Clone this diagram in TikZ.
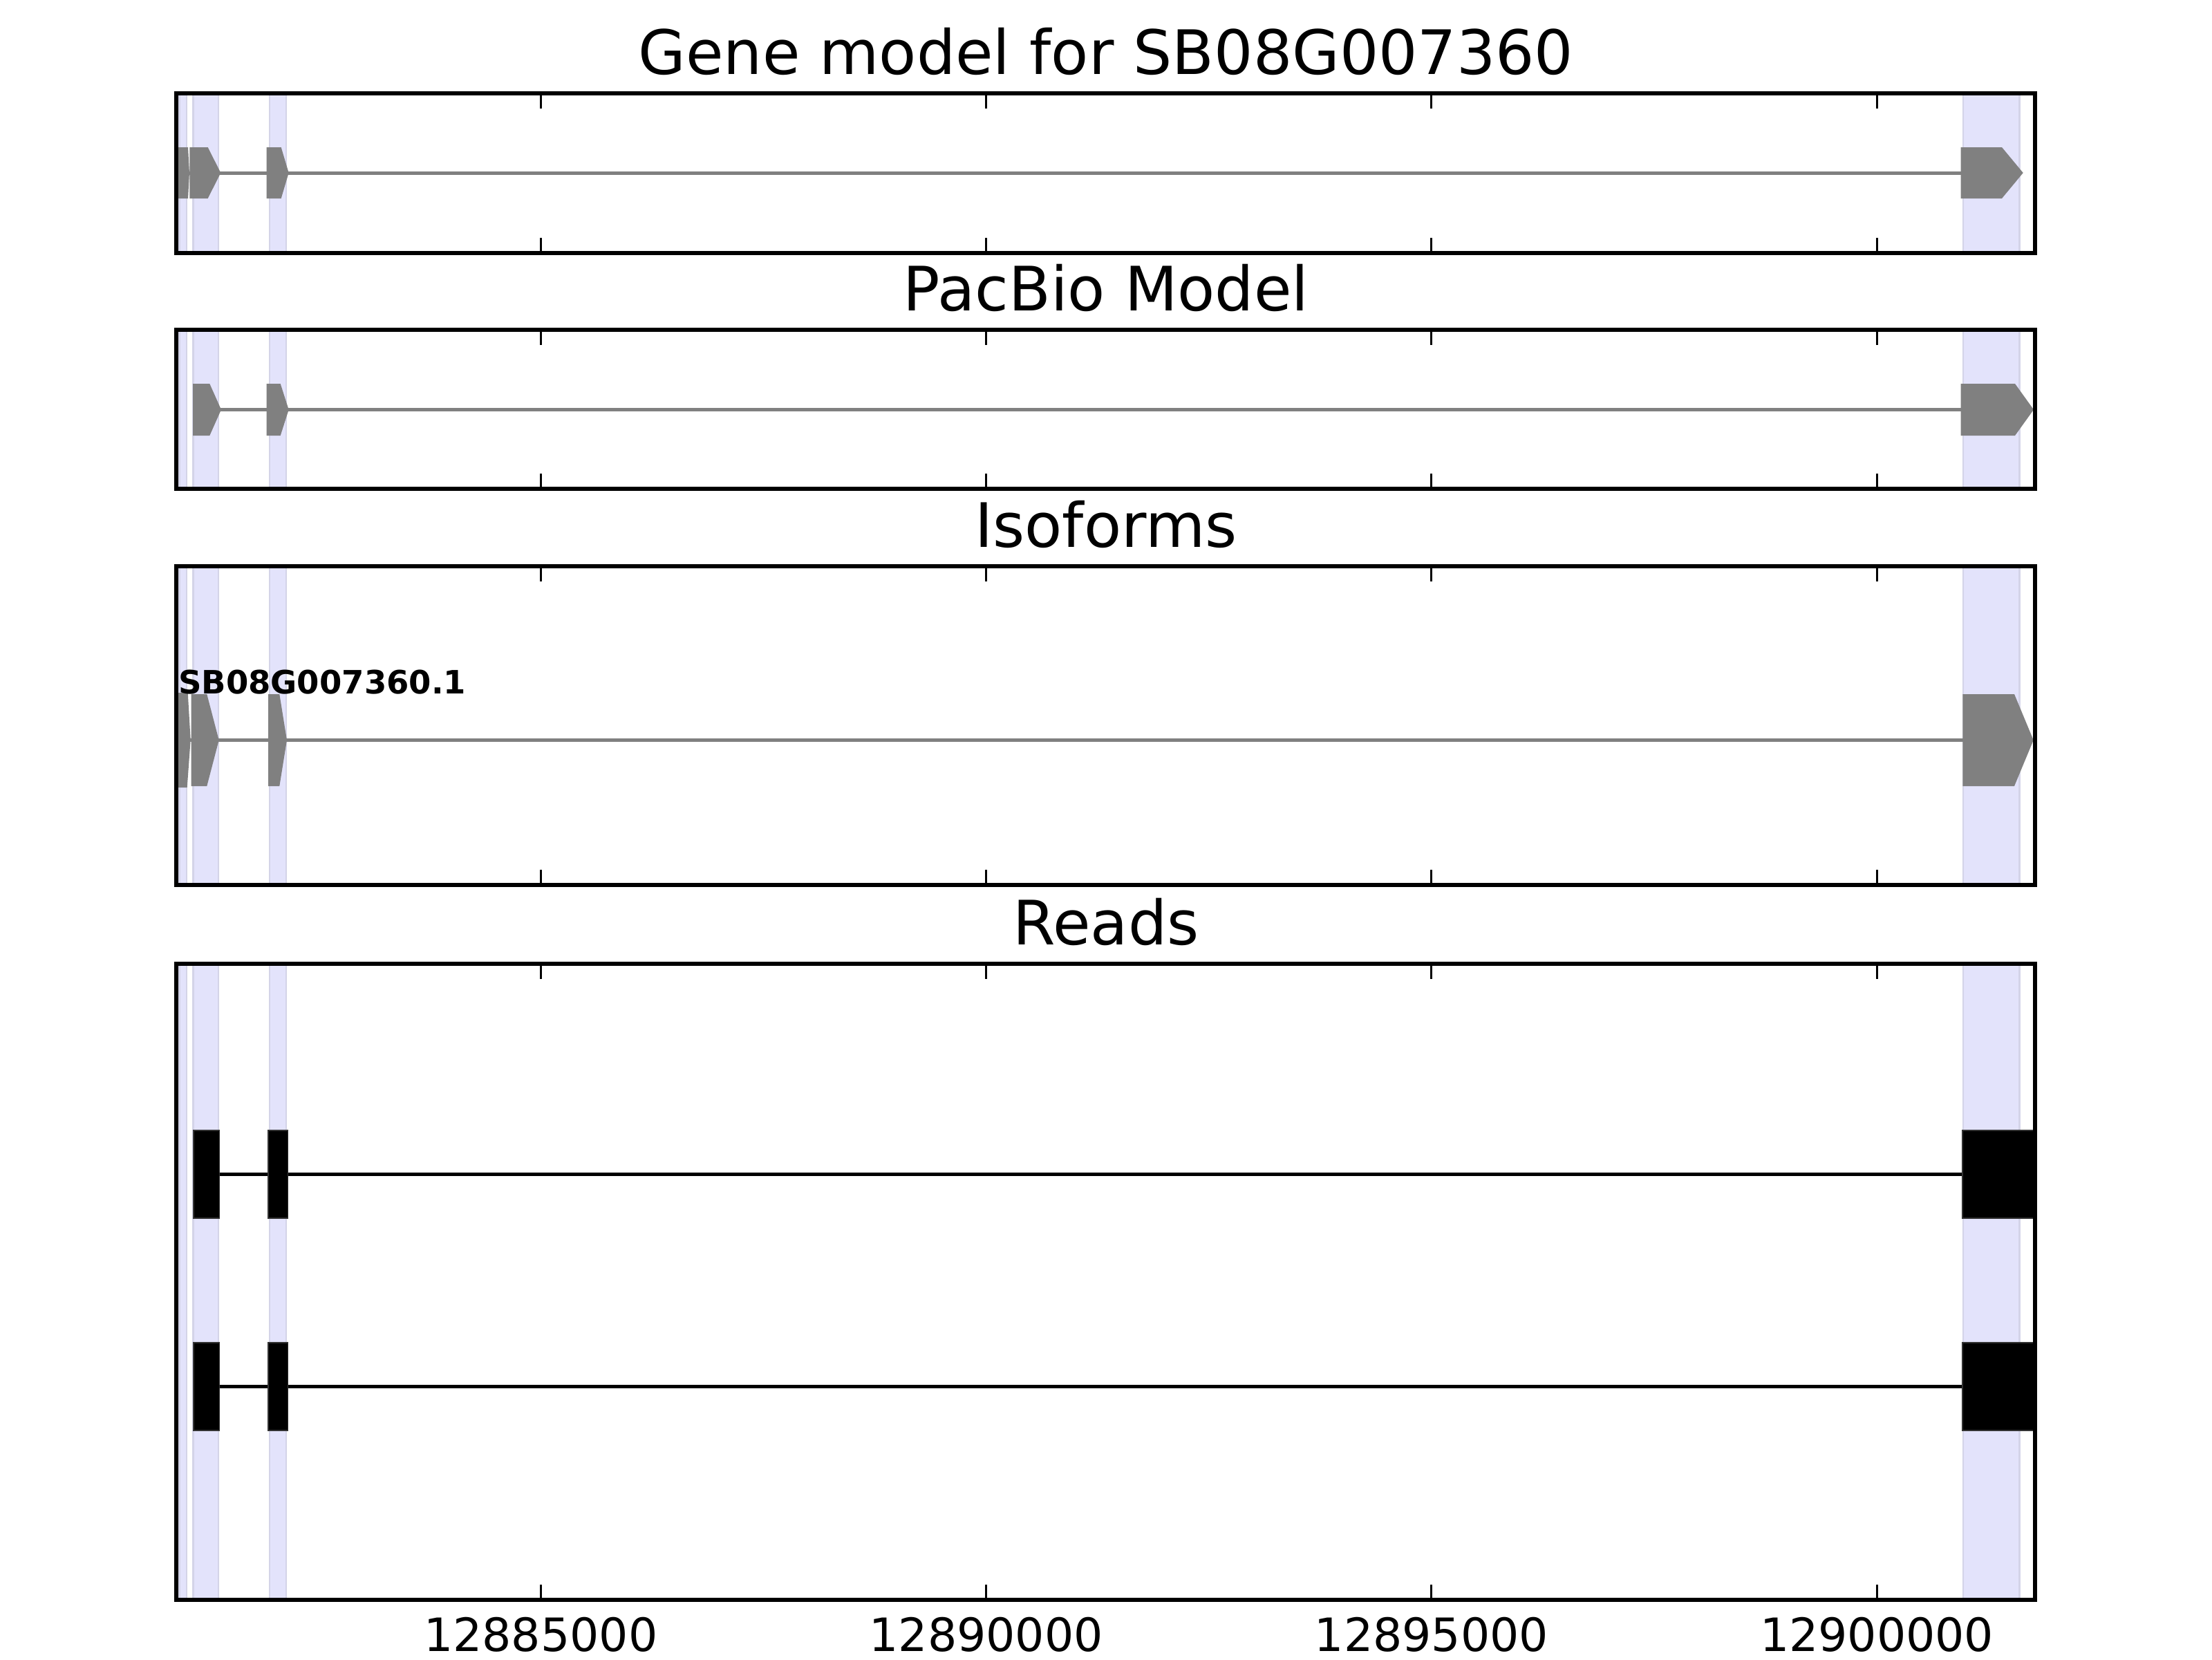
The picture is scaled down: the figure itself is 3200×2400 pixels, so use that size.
\documentclass[tikz,border=0pt]{standalone}
\usepackage{fontspec}
\setmainfont{DejaVu Sans}
\definecolor{spanblue}{RGB}{227,227,251}
\definecolor{spanedge}{RGB}{212,212,232}
\definecolor{exongray}{RGB}{128,128,128}
\tikzset{
  panel/.style={line width=1pt},
  span/.style={fill=spanblue,draw=spanedge,line width=0.5pt},
  gene/.style={fill=exongray},
  intron/.style={draw=exongray,line width=0.9pt},
  readexon/.style={fill=black,draw=black!80,line width=0.2pt},
  readline/.style={line width=0.9pt},
  tickmark/.style={line width=0.55pt},
  titletext/.style={anchor=base,inner sep=0pt,font=\fontsize{16}{19}\selectfont},
  ticktext/.style={anchor=north,inner sep=0pt,font=\fontsize{12}{14}\selectfont},
}
\begin{document}
\begin{tikzpicture}[x=0.00635cm,y=-0.00635cm,line join=miter]
\useasboundingbox (0,0) rectangle (3200,2400);
\def\xl{255}\def\xr{2944}
% highlighted exon spans in every panel
\foreach \t/\b in {135/366,477/707,819/1280,1394/2314}{
  \foreach \s/\e in {259.5/270,279.5/316,390/414,2840/2921.5}
    \filldraw[span] (\s,\t) rectangle (\e,\b);
}
% gene model
\draw[intron] (272,250) -- (2837,250);
\foreach \l/\c/\p in {255/272/274,274.3/300.7/319.3,385.7/406.7/417.7,2836.7/2896/2926.7}
  \fill[gene] (\l,213) -- (\c,213) -- (\p,250) -- (\c,287) -- (\l,287) -- cycle;
% pacbio model
\draw[intron] (318,592.5) -- (2837,592.5);
\foreach \l/\c/\p in {279/303.3/320,385.7/405.7/417.7,2836.7/2915/2942}
  \fill[gene] (\l,555) -- (\c,555) -- (\p,592.5) -- (\c,630) -- (\l,630) -- cycle;
% isoforms
\draw[intron] (272,1070) -- (2840,1070);
\fill[gene] (255,1002) -- (271.7,1002) -- (275.7,1070) -- (270.7,1139) -- (255,1139) -- cycle;
\foreach \l/\c/\p in {276.7/299.3/316.7,388/404.3/415,2839.3/2914/2941.7}
  \fill[gene] (\l,1004) -- (\c,1004) -- (\p,1070.5) -- (\c,1137) -- (\l,1137) -- cycle;
\node[anchor=base west,inner sep=0pt,font=\fontsize{8.4}{10}\selectfont\bfseries] (isolabel) at (257,1003) {SB08G007360.1};
% reads
\foreach \t/\m/\b in {1635/1698.5/1762,1942/2005.5/2069}{
  \draw[readline] (317,\m) -- (2840,\m);
  \foreach \s/\e in {280/317.5,388/416.5,2839/2944}
    \filldraw[readexon] (\s,\t) rectangle (\e,\b);
}
% ticks and frames
\foreach \t/\b in {135/366,477/707,819/1280,1394/2314}{
  \foreach \x in {782.3,1426.6,2070.9,2715.2}
    \draw[tickmark] (\x,\t) -- (\x,\t+22) (\x,\b) -- (\x,\b-22);
  \draw[panel] (\xl,\t) rectangle (\xr,\b);
}
\foreach \x/\lab in {782.3/12885000,1426.6/12890000,2070.9/12895000,2715.2/12900000}
  \node[ticktext] (tick\lab) at (\x,2338) {\lab};
\path (1600,107) node[titletext] (genetitle) {Gene model for SB08G007360}
      (1600,449) node[titletext] (pacbiotitle) {PacBio Model}
      (1600,791) node[titletext] (isotitle) {Isoforms}
      (1600,1366) node[titletext] (readstitle) {Reads};
\end{tikzpicture}
\end{document}
